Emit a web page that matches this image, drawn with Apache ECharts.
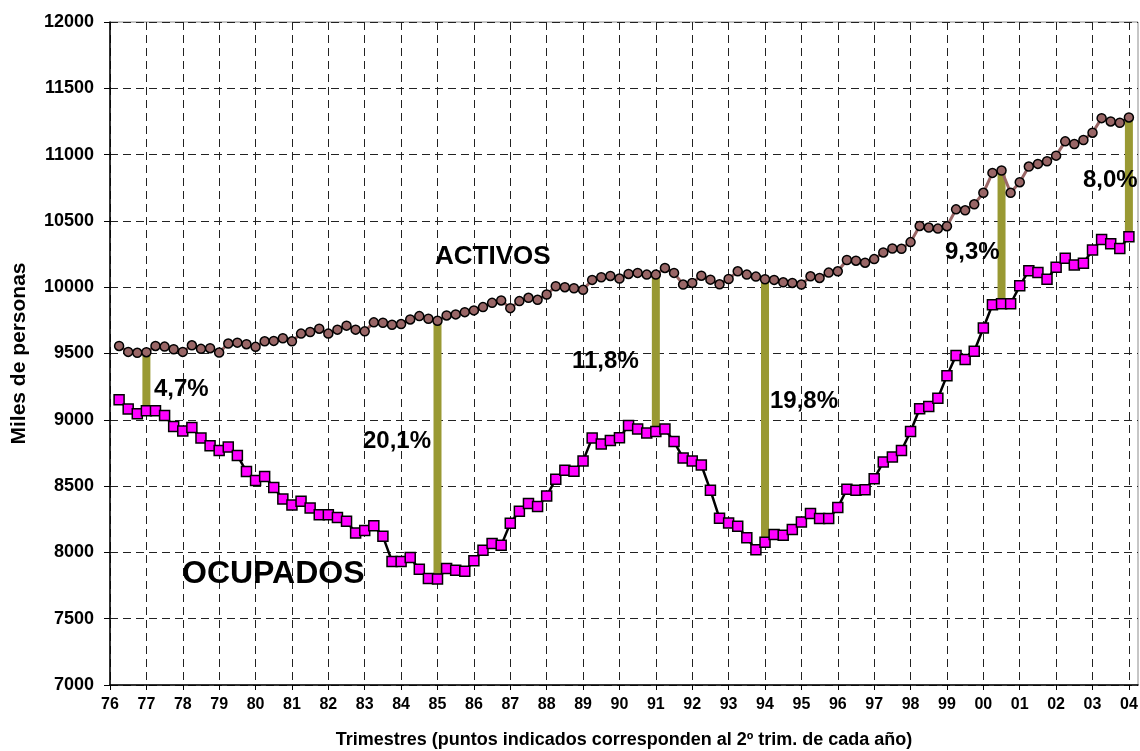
<!DOCTYPE html>
<html>
<head>
<meta charset="utf-8">
<script src="https://cdn.jsdelivr.net/npm/echarts@6/dist/echarts.min.js"></script>
<style>
  html, body { margin: 0; padding: 0; background: #fff; }
  #chart { width: 1140px; height: 751px; }
</style>
</head>
<body>
<div id="chart"></div>
<script>
// año de cada 2º trimestre (marca del eje)
const years = ['76', '77', '78', '79', '80', '81', '82', '83', '84', '85', '86', '87', '88', '89', '90',
  '91', '92', '93', '94', '95', '96', '97', '98', '99', '00', '01', '02', '03', '04'];

// miles de personas, desde III-76 hasta II-04
const activos = [
  9557, 9512, 9505, 9510, 9557, 9552, 9532, 9512, 9562, 9535, 9540, 9507,
  9575, 9582, 9570, 9550, 9592, 9595, 9615, 9592, 9650, 9662, 9687, 9650,
  9680, 9710, 9680, 9667, 9735, 9732, 9717, 9722, 9757, 9782, 9762, 9747,
  9787, 9795, 9812, 9825, 9850, 9882, 9900, 9842, 9895, 9920, 9905, 9945,
  10007, 10000, 9992, 9980, 10055, 10075, 10085, 10065, 10100, 10108, 10095, 10095,
  10145, 10108, 10020, 10032, 10087, 10057, 10022, 10062, 10120, 10095, 10080, 10060,
  10055, 10037, 10032, 10020, 10082, 10070, 10110, 10120, 10205, 10200, 10185, 10212,
  10262, 10292, 10290, 10340, 10462, 10450, 10442, 10460, 10587, 10580, 10625, 10712,
  10862, 10880, 10712, 10792, 10910, 10930, 10950, 10992, 11100, 11080, 11110, 11165,
  11275, 11250, 11240, 11280
];
const ocupados = [
  9151, 9081, 9045, 9068, 9068, 9033, 8950, 8915, 8942, 8862, 8804, 8769,
  8794, 8731, 8610, 8543, 8573, 8490, 8402, 8357, 8385, 8335, 8284, 8284,
  8264, 8234, 8146, 8166, 8201, 8121, 7932, 7932, 7962, 7872, 7804, 7800,
  7878, 7865, 7857, 7937, 8017, 8068, 8053, 8219, 8311, 8369, 8346, 8426,
  8552, 8620, 8612, 8690, 8862, 8817, 8844, 8864, 8957, 8930, 8900, 8912,
  8930, 8836, 8711, 8689, 8659, 8468, 8257, 8222, 8197, 8110, 8020, 8077,
  8135, 8130, 8173, 8230, 8293, 8255, 8255, 8338, 8476, 8468, 8473, 8556,
  8681, 8719, 8769, 8912, 9083, 9100, 9163, 9333, 9485, 9455, 9517, 9692,
  9868, 9875, 9875, 10010, 10125, 10110, 10060, 10150, 10218, 10168, 10180, 10280,
  10360, 10327, 10292, 10380
];

// trimestres con la barra de paro y su rótulo
const gapQuarters = ['II-77', 'II-85', 'II-91', 'II-94', 'IV-00', 'II-04'];
const gapLabels = ['4,7%', '20,1%', '11,8%', '19,8%', '9,3%', '8,0%'];

const quarters = [];
years.forEach((y, i) => {
  quarters.push('II-' + y);
  if (i < years.length - 1) quarters.push('III-' + y, 'IV-' + y, 'I-' + years[i + 1]);
});
quarters.push(''); // hueco final hasta el borde del gráfico

const font = '"Liberation Sans", Arial, sans-serif';
const dash = [8, 5];

const activosData = [null].concat(activos);
const ocupadosData = [null].concat(ocupados);
const gapData = gapQuarters.map(q => {
  const i = quarters.indexOf(q);
  return [i, ocupadosData[i], activosData[i]];
});

// rótulos sueltos (texto, x izq., centro y, tamaño)
const notes = [
  ['ACTIVOS', 435, 257, 26],
  ['OCUPADOS', 182, 574, 32],
  [gapLabels[0], 154, 389, 24],
  [gapLabels[1], 363, 441, 24],
  [gapLabels[2], 572, 361, 24],
  [gapLabels[3], 770, 401, 24],
  [gapLabels[4], 945, 252, 24],
  [gapLabels[5], 1083, 180, 24]
];

const chart = echarts.init(document.getElementById('chart'));
chart.setOption({
  animation: false,
  textStyle: { fontFamily: font },
  grid: {
    left: 110, right: 2, top: 22, bottom: 66,
    outerBoundsMode: 'none',
    show: true, borderColor: '#8c8c8c', borderWidth: 1, backgroundColor: '#fff'
  },
  xAxis: {
    type: 'category',
    data: quarters,
    boundaryGap: false,
    name: 'Trimestres (puntos indicados corresponden al 2º trim. de cada año)',
    nameLocation: 'middle',
    nameGap: 46,
    nameTextStyle: { fontFamily: font, fontWeight: 'bold', fontSize: 18, color: '#000' },
    axisLine: { lineStyle: { color: '#000', width: 1.5 } },
    axisTick: { interval: 3, length: 5, lineStyle: { color: '#000' } },
    axisLabel: {
      interval: 3, margin: 12,
      formatter: v => v.replace('II-', ''),
      fontFamily: font, fontWeight: 'bold', fontSize: 16, color: '#000'
    },
    splitLine: { show: true, interval: 3, lineStyle: { color: '#222', width: 1, type: dash } }
  },
  yAxis: {
    type: 'value',
    min: 7000, max: 12000, interval: 500,
    name: 'Miles de personas',
    nameLocation: 'middle',
    nameGap: 80,
    nameTextStyle: { fontFamily: font, fontWeight: 'bold', fontSize: 21, color: '#000' },
    axisLine: { show: true, lineStyle: { color: '#000', width: 1.5 } },
    axisTick: { show: true, length: 6, lineStyle: { color: '#000' } },
    axisLabel: {
      margin: 16, formatter: v => String(v),
      fontFamily: font, fontWeight: 'bold', fontSize: 18, color: '#000'
    },
    splitLine: { show: true, lineStyle: { color: '#222', width: 1, type: dash } }
  },
  series: [
    {
      name: 'paro',
      type: 'custom',
      z: 1,
      encode: { x: 0, y: [1, 2] },
      data: gapData,
      renderItem: (params, api) => {
        const top = api.coord([api.value(0), api.value(2)]);
        const bot = api.coord([api.value(0), api.value(1)]);
        return {
          type: 'rect',
          shape: { x: top[0] - 4, y: top[1], width: 8, height: bot[1] - top[1] },
          style: { fill: '#999933' }
        };
      }
    },
    {
      name: 'ACTIVOS',
      type: 'line',
      z: 3,
      data: activosData,
      symbol: 'circle',
      symbolSize: 9,
      showAllSymbol: true,
      lineStyle: { color: '#996666', width: 3 },
      itemStyle: { color: '#996666', borderColor: '#000', borderWidth: 1.5 }
    },
    {
      name: 'OCUPADOS',
      type: 'line',
      z: 3,
      data: ocupadosData,
      symbol: 'rect',
      symbolSize: 10,
      showAllSymbol: true,
      lineStyle: { color: '#000', width: 2.5 },
      itemStyle: { color: '#ff00ff', borderColor: '#000', borderWidth: 1.5 }
    }
  ],
  graphic: notes.map(([text, x, y, size]) => ({
    type: 'text',
    x: x, y: y, z: 10,
    style: {
      text: text, fill: '#000', align: 'left', verticalAlign: 'middle',
      font: 'bold ' + size + 'px ' + font
    }
  }))
});
window.addEventListener('resize', () => chart.resize());
</script>
</body>
</html>
